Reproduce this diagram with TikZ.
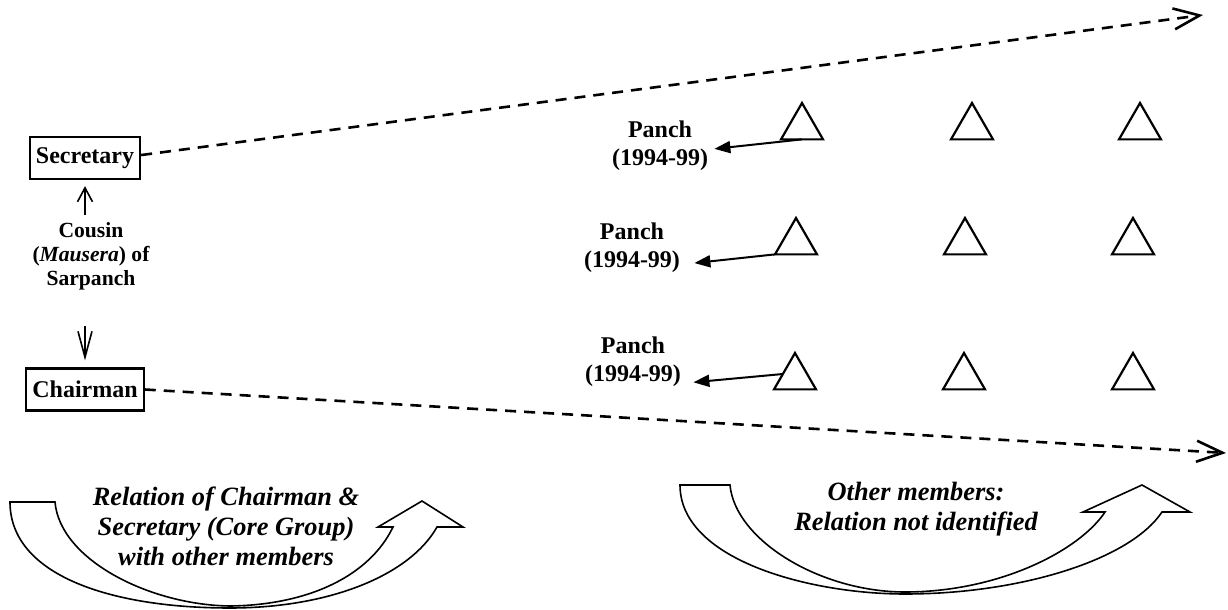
\documentclass[tikz,border=0pt]{standalone}
\usepackage{fontspec}
\setmainfont{Liberation Serif}
\usetikzlibrary{arrows.meta,shapes.geometric,calc}
\begin{document}
\begin{tikzpicture}[x=0.5pt,y=-0.5pt,
  box/.style={draw,line width=1.1pt,inner xsep=3pt,inner ysep=0pt,minimum height=21pt,
    font=\fontsize{12}{14}\selectfont\bfseries},
  tri/.style={draw,line width=1.1pt,regular polygon,regular polygon sides=3,
    minimum size=24.25pt,inner sep=0pt,outer sep=0pt},
  panch/.style={align=center,font=\fontsize{12}{14}\selectfont\bfseries,inner ysep=2pt},
  cousintext/.style={align=center,font=\fontsize{10.8}{12}\selectfont\bfseries,inner sep=0pt},
  note/.style={align=center,font=\fontsize{13.2}{15}\selectfont\bfseries\itshape,inner sep=0pt},
  panarrow/.style={line width=1pt,-{Triangle[length=8pt,width=6pt]}},
  dasharrow/.style={line width=1.3pt,dash pattern=on 5.5pt off 4pt,
    -{Straight Barb[length=13pt,width=10.5pt,line width=1.3pt]}},
  uparrow/.style={line width=0.8pt,-{Straight Barb[length=7pt,width=7.5pt,line width=0.8pt]}},
  downarrow/.style={line width=0.8pt,-{Straight Barb[length=13pt,width=7pt,line width=0.8pt]}},
  blockarrow/.style={draw,line width=0.8pt,line join=miter}]
\useasboundingbox (0,0) rectangle (1228,610);

% core group
\node[box] (sec) at (85,158) {Secretary};
\node[box] (chair) at (85,389.5) {Chairman};
\node[cousintext] (cousin) at (91,256) {Cousin\\(\textit{Mausera}) of\\Sarpanch};
\draw[uparrow, shorten <=3.5pt, shorten >=3pt] (cousin.north -| sec.south) -- (sec.south);
\draw[downarrow, shorten <=18pt, shorten >=3.5pt] (cousin.south -| chair.north) -- (chair.north);

% panch labels
\node[panch, inner xsep=3pt] (p1) at (660,146) {Panch\\(1994-99)};
\node[panch, inner xsep=7pt] (p2) at (632,247.5) {Panch\\(1994-99)};
\node[panch, inner xsep=6pt] (p3) at (633,361.5) {Panch\\(1994-99)};

% triangles
\node[tri] (t11) at (802,127.25) {};
\node[tri] (t12) at (972,127.25) {};
\node[tri] (t13) at (1140,127.25) {};
\node[tri] (t21) at (796,242.25) {};
\node[tri] (t22) at (965,242.25) {};
\node[tri] (t23) at (1133,242.25) {};
\node[tri] (t31) at (795,377.25) {};
\node[tri] (t32) at (964,377.25) {};
\node[tri] (t33) at (1133,377.25) {};

\draw[panarrow] (t11.side 2) -- (p1.-3);
\draw[panarrow] (t21.corner 2) -- (p2.-14.5);
\draw[panarrow] (t31.165) -- (p3.-19);

% dashed connectors
\coordinate (e1) at (1203,15);
\coordinate (e2) at (1226,453);
\draw[dasharrow] (sec.3) -- (e1);
\draw[dasharrow] (chair.east) -- (e2);

% curved block arrows
\draw[blockarrow] (10,502) -- (55,502)
  .. controls (60,560) and (150,605) .. (230,606)
  .. controls (310,605) and (370,575) .. (393,527)
  -- (378,527) -- (422,501) -- (463,527) -- (437,527)
  .. controls (410,575) and (330,608) .. (230,608)
  .. controls (110,608) and (10,575) .. (10,502) -- cycle;
\draw[blockarrow] (680,485) -- (730,485)
  .. controls (735,540) and (820,592) .. (905,592)
  .. controls (1000,592) and (1080,550) .. (1105,512)
  -- (1083,512) -- (1142,485) -- (1190,512) -- (1162,512)
  .. controls (1130,560) and (1020,594) .. (905,594)
  .. controls (810,594) and (680,560) .. (680,485) -- cycle;

\node[note] (n1) at (226,526) {Relation of Chairman \&\\Secretary (Core Group)\\with other members};
\node[note] (n2) at (916,509) {Other members:\\Relation not identified};
\end{tikzpicture}
\end{document}
